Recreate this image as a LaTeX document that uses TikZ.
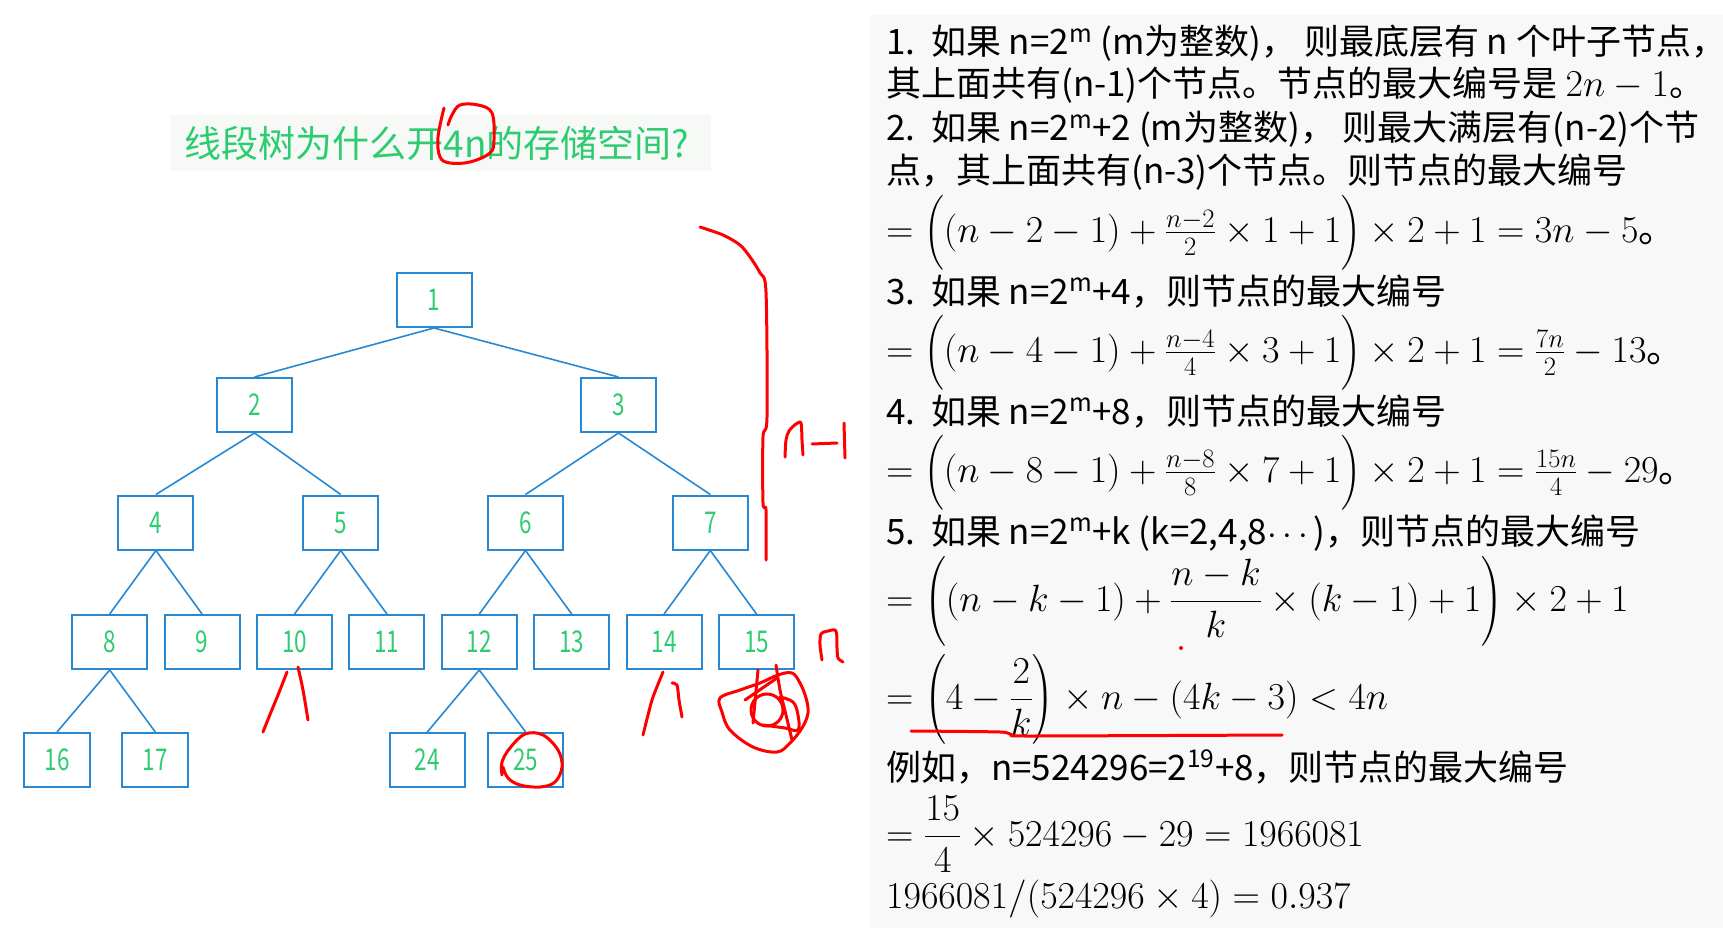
\RequirePackage{fix-cm}
\documentclass[tikz,border=0pt]{standalone}
\usepackage{amsmath}
\usepackage[no-math]{fontspec}
\setmainfont{Noto Sans CJK SC}
\newfontfamily\numfont[FakeStretch=0.75]{Noto Sans CJK SC}
\definecolor{boxblue}{RGB}{40,136,210}
\definecolor{numgreen}{RGB}{46,204,113}
\definecolor{panelbg}{RGB}{248,248,248}
\definecolor{titlebg}{RGB}{246,249,246}
\definecolor{inkred}{RGB}{255,0,0}
\tikzset{
  tbox/.style={draw=boxblue, line width=2pt, minimum width=75pt, minimum height=54pt,
    inner sep=0pt, text=numgreen, font=\numfont\fontsize{30}{30}\selectfont},
  link/.style={draw=boxblue, line width=1.6pt},
  hand/.style={draw=inkred, line width=3pt, line cap=round, line join=round},
  txtline/.style={anchor=base west, inner sep=0pt, text height=27pt, text depth=7pt,
    font=\fontsize{35}{40}\selectfont},
  mline/.style={txtline, font=\fontsize{38}{42}\selectfont},
}
\begin{document}
\begin{tikzpicture}[x=1pt, y=-1pt]
  \useasboundingbox (0,0) rectangle (1723,928);
  \fill[panelbg] (870,15) rectangle (1723,928);

  % title
  \fill[titlebg] (170,115) rectangle (711,171);
  \node[text=numgreen, font=\fontsize{37}{40}\selectfont] (title) at (437,143) {线段树为什么开4n的存储空间?};

  % level 1
  \node[tbox] (n1) at (434,300) {1};
  % level 2
  \node[tbox] (n2) at (254.5,405) {2};
  \node[tbox] (n3) at (618.5,405) {3};
  % level 3
  \foreach \i/\x in {4/155.9,5/340.7,6/525.5,7/710.3}
    \node[tbox] (n\i) at (\x,522.5) {\i};
  % level 4
  \foreach \i in {8,...,15}
    \node[tbox] (n\i) at ({109.7+92.4*(\i-8)},642) {\i};
  % level 5
  \node[tbox, minimum width=66pt] (n16) at (57,760) {16};
  \node[tbox, minimum width=66pt] (n17) at (155.3,760) {17};
  \node[tbox] (n24) at (427.3,760) {24};
  \node[tbox] (n25) at (525.7,760) {25};

  \foreach \a/\b in {1/2,1/3,2/4,2/5,3/6,3/7,4/8,4/9,5/10,5/11,6/12,6/13,7/14,7/15,8/16,8/17,12/24,12/25}
    \draw[link] (n\a.south) -- (n\b.north);

  % notes
  \node[txtline] (l1) at (886,55) {1.\hspace{0.45em}如果 n=2\textsuperscript{m} (m为整数)， 则最底层有 n 个叶子节点，};
  \node[txtline] (l2) at (886,97) {其上面共有(n-1)个节点。节点的最大编号是 {\fontsize{38}{42}\selectfont$2n-1$}。};
  \node[txtline] (l3) at (886,141) {2.\hspace{0.45em}如果 n=2\textsuperscript{m}+2 (m为整数)， 则最大满层有(n-2)个节};
  \node[txtline] (l4) at (886,184) {点，其上面共有(n-3)个节点。则节点的最大编号};
  \node[mline] (l5) at (886,242) {$=\Big((n-2-1)+\frac{n-2}{2}\times1+1\Big)\times2+1=3n-5$。};
  \node[txtline] (l6) at (886,304) {3.\hspace{0.45em}如果 n=2\textsuperscript{m}+4，则节点的最大编号};
  \node[mline] (l7) at (886,362) {$=\Big((n-4-1)+\frac{n-4}{4}\times3+1\Big)\times2+1=\frac{7n}{2}-13$。};
  \node[txtline] (l8) at (886,424) {4.\hspace{0.45em}如果 n=2\textsuperscript{m}+8，则节点的最大编号};
  \node[mline] (l9) at (886,482) {$=\Big((n-8-1)+\frac{n-8}{8}\times7+1\Big)\times2+1=\frac{15n}{4}-29$。};
  \node[txtline] (l10) at (886,544) {5.\hspace{0.45em}如果 n=2\textsuperscript{m}+k (k=2,4,8$\cdots$)，则节点的最大编号};
  \node[mline] (l11) at (886,611) {$=\left((n-k-1)+\dfrac{n-k}{k}\times(k-1)+1\right)\times2+1$};
  \node[mline] (l12) at (886,709) {$=\left(4-\dfrac{2}{k}\right)\times n-(4k-3)<4n$};
  \node[txtline] (l13) at (886,780) {例如，n=524296=2\textsuperscript{19}+8，则节点的最大编号};
  \node[mline] (l14) at (886,846) {$=\dfrac{15}{4}\times524296-29=1966081$};
  \node[mline] (l15) at (886,908) {$1966081/(524296\times4)=0.937$};

  % red ink
  \draw[hand] plot[smooth, tension=0.6] coordinates {(444,108) (438,137) (440,157) (450,163) (470,162) (490,153) (494,140) (492,113) (478,105) (460,105) (452,115) (448,125)};
  \draw[hand] plot[smooth, tension=0.5] coordinates {(700,227) (723,235) (740,245) (750,257) (760,273) (766,292) (767,417) (763,437) (763,503) (766,510) (766,560)};
  \draw[hand] plot[smooth, tension=0.5] coordinates {(785,457) (786,440) (789,431) (796,424) (801,423) (802,440) (803,455)};
  \draw[hand] (812,444) -- (837,443);
  \draw[hand] (844,423) -- (845,458);
  \draw[hand] plot[smooth, tension=0.5] coordinates {(822,660) (820,645) (821,634) (828,631) (836,631) (837,648) (838,658) (843,662)};
  \draw[hand] plot[smooth, tension=0.5] coordinates {(287,672) (278,695) (271,712) (263,732)};
  \draw[hand] plot[smooth, tension=0.5] coordinates {(298,667) (303,690) (308,720)};
  \draw[hand] plot[smooth, tension=0.5] coordinates {(663,672) (653,697) (648,715) (643,735)};
  \draw[hand] plot[smooth, tension=0.5] coordinates {(672,683) (677,685) (679,700) (682,717)};
  \draw[hand] plot[smooth cycle, tension=0.6] coordinates {(720,698) (722,712) (730,730) (753,747) (777,752) (790,743) (802,728) (808,713) (806,698) (800,683) (792,673) (778,675) (760,683) (740,690)};
  \draw[hand] (758,670) -- (753,723);
  \draw[hand] plot[smooth, tension=0.5] coordinates {(776,665) (780,690) (786,715) (792,740)};
  \draw[hand] (767,710) circle (16);
  \draw[hand] (745,700) -- (777,678);
  \draw[hand] plot[smooth, tension=0.6] coordinates {(780,697) (793,702) (798,715) (798,730) (785,728) (763,725)};
  \draw[hand] plot[smooth, tension=0.6] coordinates {(502,775) (502,762) (510,748) (525,734) (543,735) (558,750) (562,767) (555,782) (540,787) (520,785) (508,778) (503,767)};
  \draw[hand] plot[smooth, tension=0.4] coordinates {(911,731) (1000,732) (1012,735) (1030,736) (1282,735)};
  \fill[inkred] (1181,648) circle (2);
\end{tikzpicture}
\end{document}
